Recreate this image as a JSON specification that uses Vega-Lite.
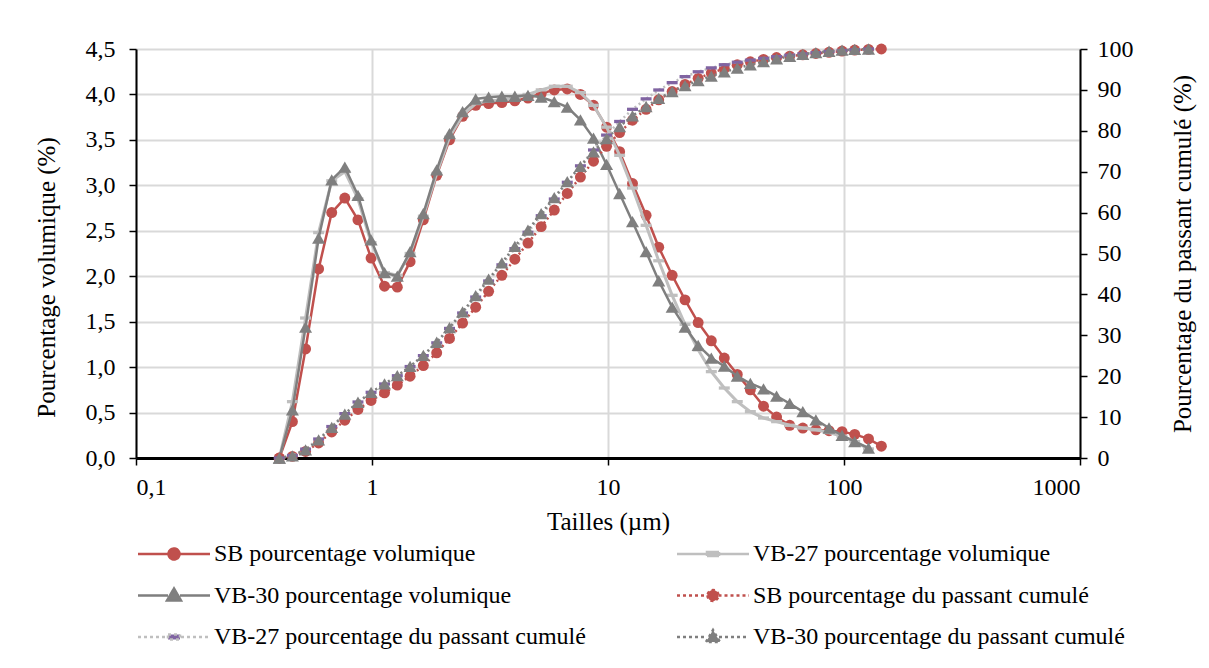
{
  "$schema": "https://vega.github.io/schema/vega-lite/v6.json",
  "width": 944,
  "height": 409,
  "autosize": "none",
  "padding": {"left": 136, "top": 49, "right": 129, "bottom": 210},
  "background": "white",
  "config": {
    "font": "Liberation Serif",
    "view": {"stroke": null},
    "axis": {
      "domainColor": "black", "domainWidth": 2, "tickColor": "black", "tickWidth": 1.5,
      "gridColor": "#D9D9D9", "gridWidth": 2,
      "labelFont": "Liberation Serif", "labelFontSize": 24, "labelColor": "black",
      "titleFont": "Liberation Serif", "titleFontSize": 25, "titleFontWeight": "normal", "titleColor": "black"
    },
    "legend": {
      "orient": "none", "legendX": 26, "legendY": 493, "columns": 2, "columnPadding": 86, "rowPadding": 17.5,
      "labelFont": "Liberation Serif", "labelFontSize": 24, "labelColor": "black", "labelLimit": 800,
      "labelOffset": 28, "symbolSize": 400, "symbolStrokeWidth": 2.5, "padding": 0
    }
  },
  "data": {"values": [
    {"d": 0.405, "sb": 0, "v27": 0, "v30": 0, "sbc": 0, "v27c": 0, "v30c": 0},
    {"d": 0.46, "sb": 0.40, "v27": 0.62, "v30": 0.53, "sbc": 0.40, "v27c": 0.62, "v30c": 0.53},
    {"d": 0.523, "sb": 1.20, "v27": 1.54, "v30": 1.44, "sbc": 1.60, "v27c": 2.16, "v30c": 1.98},
    {"d": 0.594, "sb": 2.08, "v27": 2.48, "v30": 2.42, "sbc": 3.68, "v27c": 4.64, "v30c": 4.42},
    {"d": 0.675, "sb": 2.70, "v27": 3.05, "v30": 3.06, "sbc": 6.38, "v27c": 7.69, "v30c": 7.50},
    {"d": 0.767, "sb": 2.86, "v27": 3.15, "v30": 3.20, "sbc": 9.24, "v27c": 10.84, "v30c": 10.72},
    {"d": 0.872, "sb": 2.62, "v27": 2.85, "v30": 2.89, "sbc": 11.86, "v27c": 13.69, "v30c": 13.63},
    {"d": 0.991, "sb": 2.20, "v27": 2.37, "v30": 2.40, "sbc": 14.06, "v27c": 16.06, "v30c": 16.05},
    {"d": 1.13, "sb": 1.89, "v27": 2.04, "v30": 2.04, "sbc": 15.95, "v27c": 18.10, "v30c": 18.10},
    {"d": 1.28, "sb": 1.88, "v27": 2.01, "v30": 2.00, "sbc": 17.83, "v27c": 20.11, "v30c": 20.12},
    {"d": 1.45, "sb": 2.16, "v27": 2.25, "v30": 2.27, "sbc": 19.99, "v27c": 22.36, "v30c": 22.40},
    {"d": 1.65, "sb": 2.62, "v27": 2.66, "v30": 2.69, "sbc": 22.61, "v27c": 25.02, "v30c": 25.11},
    {"d": 1.88, "sb": 3.11, "v27": 3.13, "v30": 3.17, "sbc": 25.72, "v27c": 28.15, "v30c": 28.30},
    {"d": 2.13, "sb": 3.50, "v27": 3.53, "v30": 3.57, "sbc": 29.22, "v27c": 31.68, "v30c": 31.90},
    {"d": 2.42, "sb": 3.76, "v27": 3.77, "v30": 3.81, "sbc": 32.98, "v27c": 35.45, "v30c": 35.73},
    {"d": 2.75, "sb": 3.88, "v27": 3.90, "v30": 3.95, "sbc": 36.86, "v27c": 39.35, "v30c": 39.71},
    {"d": 3.12, "sb": 3.90, "v27": 3.93, "v30": 3.97, "sbc": 40.76, "v27c": 43.28, "v30c": 43.71},
    {"d": 3.55, "sb": 3.91, "v27": 3.94, "v30": 3.98, "sbc": 44.67, "v27c": 47.22, "v30c": 47.71},
    {"d": 4.03, "sb": 3.93, "v27": 3.96, "v30": 3.98, "sbc": 48.60, "v27c": 51.18, "v30c": 51.72},
    {"d": 4.58, "sb": 3.96, "v27": 4.00, "v30": 3.99, "sbc": 52.56, "v27c": 55.18, "v30c": 55.74},
    {"d": 5.21, "sb": 4.01, "v27": 4.05, "v30": 3.97, "sbc": 56.57, "v27c": 59.23, "v30c": 59.74},
    {"d": 5.92, "sb": 4.05, "v27": 4.09, "v30": 3.92, "sbc": 60.62, "v27c": 63.32, "v30c": 63.68},
    {"d": 6.72, "sb": 4.06, "v27": 4.09, "v30": 3.86, "sbc": 64.68, "v27c": 67.41, "v30c": 67.57},
    {"d": 7.64, "sb": 4.00, "v27": 4.02, "v30": 3.72, "sbc": 68.68, "v27c": 71.43, "v30c": 71.32},
    {"d": 8.68, "sb": 3.88, "v27": 3.88, "v30": 3.52, "sbc": 72.56, "v27c": 75.31, "v30c": 74.86},
    {"d": 9.86, "sb": 3.64, "v27": 3.64, "v30": 3.23, "sbc": 76.20, "v27c": 78.95, "v30c": 78.11},
    {"d": 11.2, "sb": 3.37, "v27": 3.33, "v30": 2.91, "sbc": 79.57, "v27c": 82.28, "v30c": 81.04},
    {"d": 12.7, "sb": 3.02, "v27": 2.97, "v30": 2.60, "sbc": 82.59, "v27c": 85.25, "v30c": 83.66},
    {"d": 14.5, "sb": 2.67, "v27": 2.56, "v30": 2.27, "sbc": 85.26, "v27c": 87.81, "v30c": 85.94},
    {"d": 16.4, "sb": 2.32, "v27": 2.17, "v30": 1.95, "sbc": 87.58, "v27c": 89.98, "v30c": 87.91},
    {"d": 18.7, "sb": 2.01, "v27": 1.79, "v30": 1.66, "sbc": 89.59, "v27c": 91.77, "v30c": 89.58},
    {"d": 21.2, "sb": 1.74, "v27": 1.47, "v30": 1.44, "sbc": 91.33, "v27c": 93.24, "v30c": 91.03},
    {"d": 24.1, "sb": 1.49, "v27": 1.19, "v30": 1.24, "sbc": 92.82, "v27c": 94.43, "v30c": 92.28},
    {"d": 27.4, "sb": 1.29, "v27": 0.95, "v30": 1.10, "sbc": 94.11, "v27c": 95.38, "v30c": 93.39},
    {"d": 31.1, "sb": 1.10, "v27": 0.77, "v30": 1.01, "sbc": 95.21, "v27c": 96.15, "v30c": 94.40},
    {"d": 35.3, "sb": 0.92, "v27": 0.62, "v30": 0.90, "sbc": 96.13, "v27c": 96.77, "v30c": 95.31},
    {"d": 40.1, "sb": 0.75, "v27": 0.51, "v30": 0.82, "sbc": 96.88, "v27c": 97.28, "v30c": 96.13},
    {"d": 45.6, "sb": 0.57, "v27": 0.44, "v30": 0.76, "sbc": 97.45, "v27c": 97.72, "v30c": 96.90},
    {"d": 51.8, "sb": 0.45, "v27": 0.40, "v30": 0.68, "sbc": 97.90, "v27c": 98.12, "v30c": 97.58},
    {"d": 58.9, "sb": 0.36, "v27": 0.36, "v30": 0.60, "sbc": 98.26, "v27c": 98.48, "v30c": 98.19},
    {"d": 66.9, "sb": 0.33, "v27": 0.33, "v30": 0.51, "sbc": 98.59, "v27c": 98.81, "v30c": 98.70},
    {"d": 76.0, "sb": 0.31, "v27": 0.31, "v30": 0.42, "sbc": 98.90, "v27c": 99.12, "v30c": 99.12},
    {"d": 86.4, "sb": 0.30, "v27": 0.28, "v30": 0.33, "sbc": 99.20, "v27c": 99.40, "v30c": 99.45},
    {"d": 98.1, "sb": 0.29, "v27": 0.24, "v30": 0.25, "sbc": 99.49, "v27c": 99.64, "v30c": 99.71},
    {"d": 111, "sb": 0.26, "v27": 0.18, "v30": 0.18, "sbc": 99.75, "v27c": 99.82, "v30c": 99.89},
    {"d": 127, "sb": 0.21, "v27": 0.10, "v30": 0.11, "sbc": 99.91, "v27c": 100.0, "v30c": 100.0},
    {"d": 144, "sb": 0.13, "v27": null, "v30": null, "sbc": 100.0, "v27c": null, "v30c": null}
  ]},
  "resolve": {"scale": {"y": "independent"}},
  "layer": [
    {
      "encoding": {
        "x": {"field": "d", "type": "quantitative", "title": "Tailles (µm)", "scale": {"type": "log", "domain": [0.1, 1000], "nice": false},
          "axis": {"values": [0.1, 1, 10, 100, 1000], "labelExpr": "replace(format(datum.value, '~g'), '.', ',')", "title": "Tailles (µm)", "grid": true, "tickSize": 7, "labelPadding": 10, "titlePadding": 10, "domainWidth": 3}}
      },
      "layer": [
        {
          "mark": {"type": "line", "color": "#C0504D", "strokeWidth": 2.5},
          "encoding": {
            "y": {"field": "sb", "type": "quantitative", "title": "Pourcentage volumique (%)", "scale": {"domain": [0, 4.5], "nice": false},
              "axis": {"orient": "left", "values": [0, 0.5, 1, 1.5, 2, 2.5, 3, 3.5, 4, 4.5], "labelExpr": "replace(format(datum.value, '.1f'), '.', ',')", "title": "Pourcentage volumique (%)", "grid": true, "tickSize": 7, "labelPadding": 14, "titlePadding": 26, "titleY": 228}}
          }
        },
        {
          "mark": {"type": "point", "shape": "circle", "filled": true, "size": 120, "color": "#C0504D", "opacity": 1},
          "encoding": {"y": {"field": "sb", "type": "quantitative", "title": "Pourcentage volumique (%)"}}
        },
        {
          "mark": {"type": "line", "color": "#BFBFBF", "strokeWidth": 3},
          "encoding": {"y": {"field": "v27", "type": "quantitative", "title": "Pourcentage volumique (%)"}}
        },
        {
          "mark": {"type": "point", "shape": "M-1,-0.3H1V0.3H-1Z", "filled": true, "size": 120, "color": "#BFBFBF", "opacity": 1},
          "encoding": {"y": {"field": "v27", "type": "quantitative", "title": "Pourcentage volumique (%)"}}
        },
        {
          "mark": {"type": "line", "color": "#7F7F7F", "strokeWidth": 2.5},
          "encoding": {"y": {"field": "v30", "type": "quantitative", "title": "Pourcentage volumique (%)"}}
        },
        {
          "mark": {"type": "point", "shape": "triangle-up", "filled": true, "size": 170, "color": "#7F7F7F", "opacity": 1},
          "encoding": {"y": {"field": "v30", "type": "quantitative", "title": "Pourcentage volumique (%)"}}
        }
      ]
    },
    {
      "encoding": {
        "x": {"field": "d", "type": "quantitative", "title": "Tailles (µm)", "scale": {"type": "log", "domain": [0.1, 1000], "nice": false},
          "axis": {"values": [0.1, 1, 10, 100, 1000], "labelExpr": "replace(format(datum.value, '~g'), '.', ',')", "title": "Tailles (µm)", "grid": true, "tickSize": 7, "labelPadding": 10, "titlePadding": 10, "domainWidth": 3}}
      },
      "layer": [
        {
          "mark": {"type": "line", "color": "#C0504D", "strokeWidth": 2.5, "strokeDash": [2, 3]},
          "encoding": {
            "y": {"field": "sbc", "type": "quantitative", "title": "Pourcentage du passant cumulé (%)", "scale": {"domain": [0, 100], "nice": false},
              "axis": {"orient": "right", "values": [0, 10, 20, 30, 40, 50, 60, 70, 80, 90, 100], "format": "d", "title": "Pourcentage du passant cumulé (%)", "titleAngle": 270, "grid": false, "tickSize": 7, "labelPadding": 10, "titlePadding": 62}}
          }
        },
        {
          "mark": {"type": "point", "shape": "circle", "filled": true, "size": 120, "color": "#C0504D", "opacity": 1},
          "encoding": {"y": {"field": "sbc", "type": "quantitative", "title": "Pourcentage du passant cumulé (%)"}}
        },
        {
          "mark": {"type": "line", "color": "#BFBFBF", "strokeWidth": 2.5, "strokeDash": [2, 3]},
          "encoding": {"y": {"field": "v27c", "type": "quantitative", "title": "Pourcentage du passant cumulé (%)"}}
        },
        {
          "mark": {"type": "point", "shape": "M-1,-0.3H1V0.3H-1Z", "filled": true, "size": 120, "color": "#8064A2", "opacity": 1},
          "encoding": {"y": {"field": "v27c", "type": "quantitative", "title": "Pourcentage du passant cumulé (%)"}}
        },
        {
          "mark": {"type": "line", "color": "#7F7F7F", "strokeWidth": 2.5, "strokeDash": [2, 3]},
          "encoding": {"y": {"field": "v30c", "type": "quantitative", "title": "Pourcentage du passant cumulé (%)"}}
        },
        {
          "mark": {"type": "point", "shape": "triangle-up", "filled": true, "size": 170, "color": "#7F7F7F", "opacity": 1},
          "encoding": {"y": {"field": "v30c", "type": "quantitative", "title": "Pourcentage du passant cumulé (%)"}}
        }
      ]
    },
    {
      "data": {"values": [
        {"series": "SB pourcentage volumique"},
        {"series": "VB-30 pourcentage volumique"},
        {"series": "VB-27 pourcentage du passant cumulé"},
        {"series": "VB-27 pourcentage volumique"},
        {"series": "SB pourcentage du passant cumulé"},
        {"series": "VB-30 pourcentage du passant cumulé"}
      ]},
      "mark": {"type": "point", "filled": true, "size": 0, "strokeWidth": 2.5, "opacity": 1},
      "encoding": {
        "shape": {"field": "series", "type": "nominal", "title": null,
          "scale": {"domain": ["SB pourcentage volumique", "VB-30 pourcentage volumique", "VB-27 pourcentage du passant cumulé", "VB-27 pourcentage volumique", "SB pourcentage du passant cumulé", "VB-30 pourcentage du passant cumulé"],
            "range": [
              "M-3.6,0H-0.55M0.55,0H3.6M-0.55,0A0.55,0.55 0 1,0 0.55,0A0.55,0.55 0 1,0 -0.55,0Z",
              "M-3.6,0H-0.6M0.6,0H3.6M-0.7,0.5L0,-0.7L0.7,0.5Z",
              "M-3.6,0H-0.7M0.7,0H3.6M-0.6,-0.25H0.6V0.25H-0.6Z",
              "M-3.6,0H3.6M-0.6,-0.2H0.6V0.2H-0.6Z",
              "M-3.6,0H-0.55M0.55,0H3.6M-0.55,0A0.55,0.55 0 1,0 0.55,0A0.55,0.55 0 1,0 -0.55,0Z",
              "M-3.6,0H-0.6M0.6,0H3.6M-0.7,0.5L0,-0.7L0.7,0.5Z"
            ]}},
        "fill": {"field": "series", "type": "nominal", "title": null,
          "scale": {"domain": ["SB pourcentage volumique", "VB-30 pourcentage volumique", "VB-27 pourcentage du passant cumulé", "VB-27 pourcentage volumique", "SB pourcentage du passant cumulé", "VB-30 pourcentage du passant cumulé"],
            "range": ["#C0504D", "#7F7F7F", "#8064A2", "#BFBFBF", "#C0504D", "#7F7F7F"]}},
        "stroke": {"field": "series", "type": "nominal", "title": null,
          "scale": {"domain": ["SB pourcentage volumique", "VB-30 pourcentage volumique", "VB-27 pourcentage du passant cumulé", "VB-27 pourcentage volumique", "SB pourcentage du passant cumulé", "VB-30 pourcentage du passant cumulé"],
            "range": ["#C0504D", "#7F7F7F", "#BFBFBF", "#BFBFBF", "#C0504D", "#7F7F7F"]}},
        "strokeDash": {"field": "series", "type": "nominal", "title": null,
          "scale": {"domain": ["SB pourcentage volumique", "VB-30 pourcentage volumique", "VB-27 pourcentage du passant cumulé", "VB-27 pourcentage volumique", "SB pourcentage du passant cumulé", "VB-30 pourcentage du passant cumulé"],
            "range": [[1, 0], [1, 0], [3, 3], [1, 0], [3, 3], [3, 3]]}}
      }
    }
  ]
}
